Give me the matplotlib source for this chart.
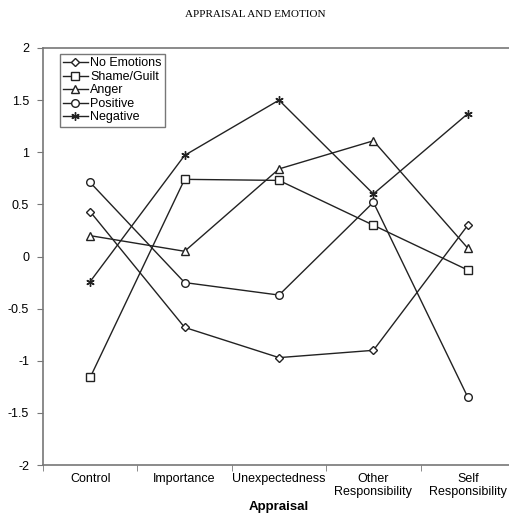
import numpy as np
import matplotlib.pyplot as plt

plt.rcParams['font.family'] = ['Liberation Sans', 'DejaVu Sans']

categories = ['Control', 'Importance', 'Unexpectedness', 'Other\nResponsibility', 'Self\nResponsibility']
no_emotions = [0.43, -0.68, -0.97, -0.90, 0.30]
shame_guilt = [-1.16, 0.74, 0.73, 0.30, -0.13]
anger = [0.20, 0.05, 0.84, 1.11, 0.08]
positive = [0.71, -0.25, -0.37, 0.52, -1.35]
negative = [-0.24, 0.97, 1.50, 0.60, 1.37]

fig = plt.figure(figsize=(5.10, 5.13), dpi=100)
ax = fig.add_axes([43/510, 1-465/513, 472/510, 417/513])

x = np.arange(len(categories))
kw = dict(color='#222222', lw=1.0, mfc='white', mec='#222222', mew=1.0)
ax.plot(x, no_emotions, marker='D', ms=3.8, label='No Emotions', **kw)
ax.plot(x, shame_guilt, marker='s', ms=5.2, label='Shame/Guilt', **kw)
ax.plot(x, anger, marker='^', ms=5.5, label='Anger', **kw)
ax.plot(x, positive, marker='o', ms=5.5, label='Positive', **kw)
ax.plot(x, negative, marker=(6, 2, 0), ms=6, label='Negative', **kw)

ax.set_xlim(-0.5, 4.5)
ax.set_ylim(-2, 2)
ax.set_yticks(np.arange(-2, 2.01, 0.5))
ax.set_yticklabels(['-2', '-1.5', '-1', '-0.5', '0', '0.5', '1', '1.5', '2'], fontsize=9)
ax.set_xticks(x)
ax.set_xticklabels(categories, fontsize=9, linespacing=1.05)
ax.set_xticks(np.arange(-0.5, 5, 1), minor=True)
ax.tick_params(axis='x', which='major', length=0, pad=6)
ax.tick_params(axis='x', which='minor', length=4, direction='out', color='#777777')
ax.tick_params(axis='y', length=4, direction='out', color='#777777', pad=6)
for s in ['left', 'bottom', 'top']:
    ax.spines[s].set_color('#777777')
    ax.spines[s].set_linewidth(1.2)
ax.spines['right'].set_visible(False)

fig.text(279/510, 1-507/513, 'Appraisal', ha='center', va='center',
         fontsize=9.5, fontweight='bold')

leg = ax.legend(loc='upper left', bbox_to_anchor=(0.035, 0.985), fontsize=9,
                handlelength=2.0, handletextpad=0.2, borderpad=0.25,
                labelspacing=0.12, frameon=True, fancybox=False, borderaxespad=0)
leg.get_frame().set_edgecolor('#555555')
leg.get_frame().set_linewidth(1.0)

fig.text(0.5, 1-15/513, 'APPRAISAL AND EMOTION', ha='center', va='center',
         fontsize=8, family=['Liberation Serif', 'DejaVu Serif'])

fig.savefig('out.png', dpi=100)
